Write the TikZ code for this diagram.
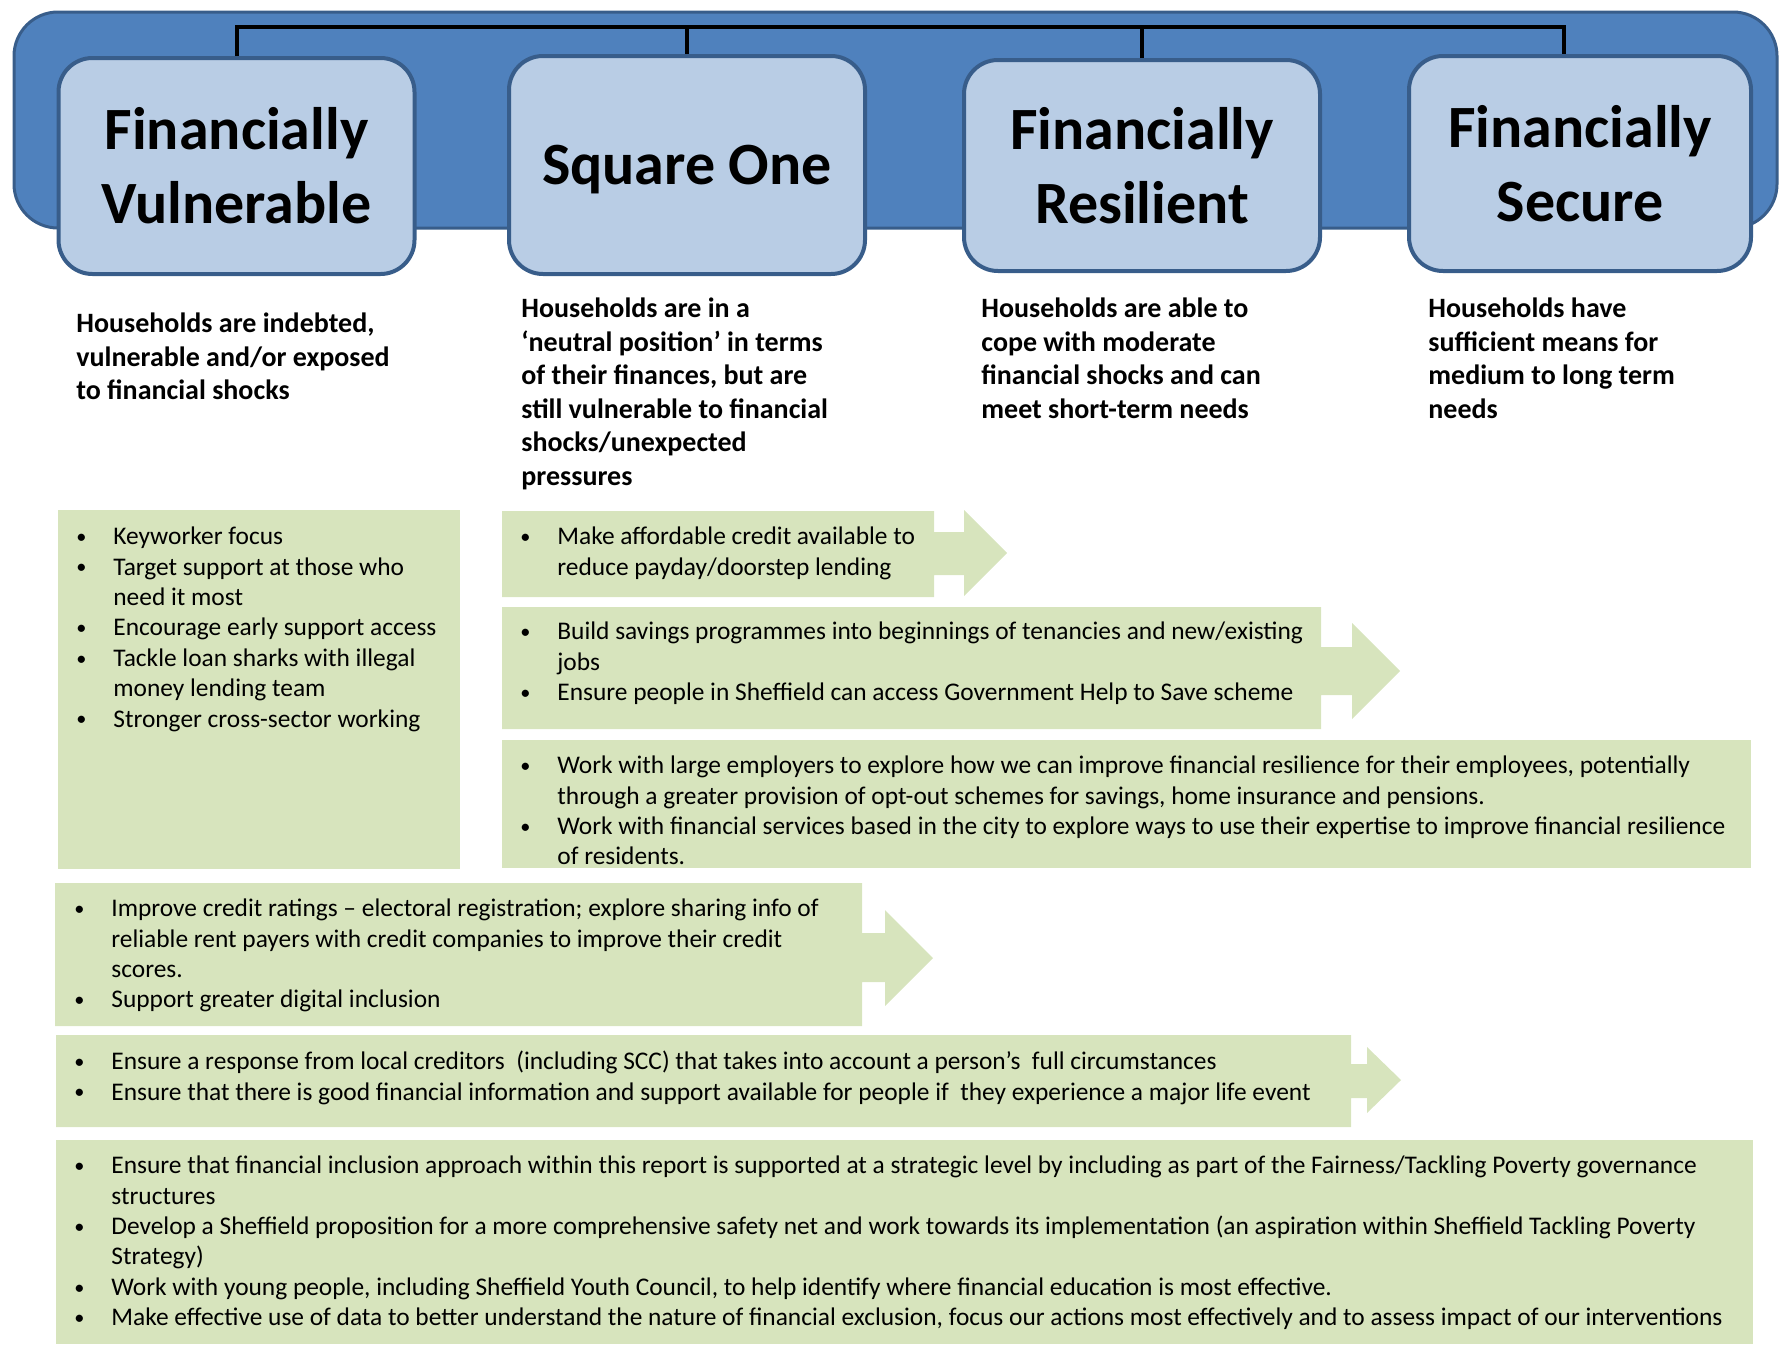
\documentclass[tikz,border=0pt]{standalone}
\usepackage{graphicx}
\usepackage{fontspec}
\setmainfont{Carlito}
\definecolor{bannerblue}{RGB}{79,129,189}
\definecolor{edgeblue}{RGB}{56,93,138}
\definecolor{stageblue}{RGB}{185,205,229}
\definecolor{panelgreen}{RGB}{215,228,189}
\newcommand\bul[1]{\strut\makebox[18.5pt][l]{\raisebox{0.6pt}{\scalebox{0.8}{\textbullet}}}#1}
\newcommand\cont[1]{\strut\hspace*{18.5pt}#1}
\begin{document}
\begin{tikzpicture}[x=0.5pt, y=-0.5pt, inner sep=0pt,
    stage/.style={draw=edgeblue, line width=2pt, fill=stageblue, rounded corners=17pt,
      minimum width=178pt, align=center, font=\fontsize{30}{37}\selectfont\bfseries},
    blurb/.style={anchor=north west, align=left, font=\fontsize{14}{16.8}\selectfont\bfseries},
    items/.style={anchor=north west, align=left, font=\fontsize{12.7}{15.2}\selectfont},
    panel/.style={fill=panelgreen},
    tree/.style={line width=2pt}]
  \useasboundingbox (0,0) rectangle (1780,1344);
  \draw[fill=bannerblue, draw=edgeblue, line width=1.5pt, rounded corners=22pt] (14,12) rectangle (1777,228);
  \coordinate (bar) at (0,27);
  \node[stage, minimum height=108pt] (s1) at (236.5,166) {Financially\\Vulnerable};
  \node[stage, minimum height=109pt, text depth=0pt] (s2) at (687,165) {Square One};
  \node[stage, minimum height=105.5pt] (s3) at (1142,165.5) {Financially\\Resilient};
  \node[stage, minimum height=107.5pt, minimum width=171pt] (s4) at (1580,163.5) {Financially\\Secure};
  \coordinate (k4) at ([xshift=-8pt]s4.north);
  \draw[tree] (s1.north) |- (bar -| k4) -- (k4);
  \draw[tree] (s2.north) -- (s2.north |- bar);
  \draw[tree] (s3.north) -- (s3.north |- bar);
  \node[blurb] (d1) at (76,308.5) {\strut Households are indebted,\\vulnerable and/or exposed\\to financial shocks};
  \node[blurb] (d2) at (521,293.5) {\strut Households are in a\\‘neutral position’ in terms\\of their finances, but are\\still vulnerable to financial\\shocks/unexpected\\pressures};
  \node[blurb] (d3) at (981,293.5) {\strut Households are able to\\cope with moderate\\financial shocks and can\\meet short-term needs};
  \node[blurb] (d4) at (1428,293.5) {\strut Households have\\sufficient means for\\medium to long term\\needs};
  % green panels
  \fill[panel] (58,510) rectangle (460,869);
  \fill[panel] (502,511) -- (934,511) -- (934,532) -- (964,532) -- (964,510) -- (1007,553) -- (964,596) -- (964,575) -- (934,575) -- (934,597) -- (502,597) -- cycle;
  \fill[panel] (502,607) -- (1321,607) -- (1321,647) -- (1352,647) -- (1352,623) -- (1400,671) -- (1352,719) -- (1352,695) -- (1321,695) -- (1321,729) -- (502,729) -- cycle;
  \fill[panel] (502,740) rectangle (1751,868);
  \fill[panel] (55,883) -- (862,883) -- (862,933) -- (885,933) -- (885,910) -- (933,958) -- (885,1006) -- (885,982) -- (862,982) -- (862,1026) -- (55,1026) -- cycle;
  \fill[panel] (56,1035) -- (1351,1035) -- (1351,1064) -- (1367,1064) -- (1367,1047) -- (1401,1080) -- (1367,1113) -- (1367,1098) -- (1351,1098) -- (1351,1127) -- (56,1127) -- cycle;
  \fill[panel] (56,1140) rectangle (1753,1344);
  \node[items] (p1) at (76,523) {\bul{Keyworker focus}\\\bul{Target support at those who}\\\cont{need it most}\\\bul{Encourage early support access}\\\bul{Tackle loan sharks with illegal}\\\cont{money lending team}\\\bul{Stronger cross-sector working}};
  \node[items] (p2) at (520,523) {\bul{Make affordable credit available to}\\\cont{reduce payday/doorstep lending}};
  \node[items] (p3) at (520,618) {\bul{Build savings programmes into beginnings of tenancies and new/existing}\\\cont{jobs}\\\bul{Ensure people in Sheffield can access Government Help to Save scheme}};
  \node[items] (p4) at (520,752) {\bul{Work with large employers to explore how we can improve financial resilience for their employees, potentially}\\\cont{through a greater provision of opt-out schemes for savings, home insurance and pensions.}\\\bul{Work with financial services based in the city to explore ways to use their expertise to improve financial resilience}\\\cont{of residents.}};
  \node[items] (p5) at (74,895) {\bul{Improve credit ratings – electoral registration; explore sharing info of}\\\cont{reliable rent payers with credit companies to improve their credit}\\\cont{scores.}\\\bul{Support greater digital inclusion}};
  \node[items] (p6) at (74,1048) {\bul{Ensure a response from local creditors \ (including SCC) that takes into account a person’s \ full circumstances}\\\bul{Ensure that there is good financial information and support available for people if \ they experience a major life event}};
  \node[items] (p7) at (74,1152) {\bul{Ensure that financial inclusion approach within this report is supported at a strategic level by including as part of the Fairness/Tackling Poverty governance}\\\cont{structures}\\\bul{Develop a Sheffield proposition for a more comprehensive safety net and work towards its implementation (an aspiration within Sheffield Tackling Poverty}\\\cont{Strategy)}\\\bul{Work with young people, including Sheffield Youth Council, to help identify where financial education is most effective.}\\\bul{Make effective use of data to better understand the nature of financial exclusion, focus our actions most effectively and to assess impact of our interventions}};
\end{tikzpicture}
\end{document}
